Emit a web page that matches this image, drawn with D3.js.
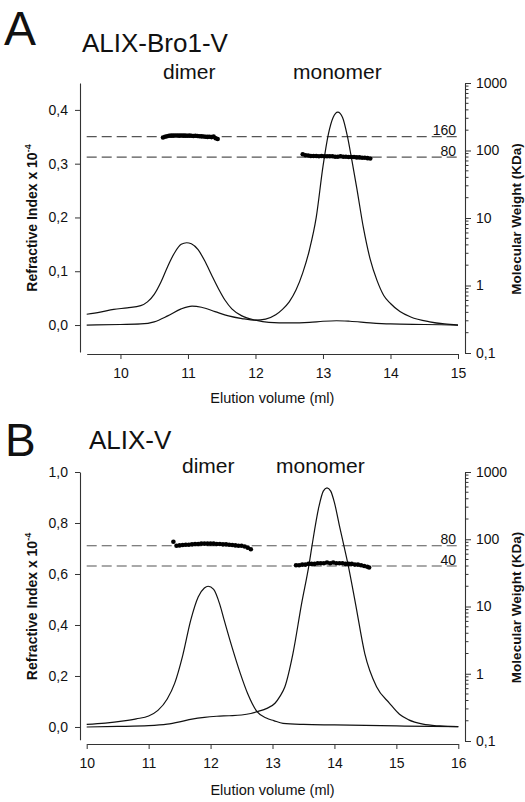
<!DOCTYPE html>
<html><head><meta charset="utf-8">
<script src="https://cdn.jsdelivr.net/npm/d3@7"></script>
<style>
body{margin:0;background:#fff}
svg{display:block}
text{font-family:"Liberation Sans",Arial,Helvetica,sans-serif;fill:#111}
</style>
</head><body>
<svg id="c" width="525" height="802"></svg>
<script>
// ---------------- DATA ----------------
const panelLetters = ["A", "B"];
const panelTitles = ["ALIX-Bro1-V", "ALIX-V"];
const peakLabels = ["dimer", "monomer"];
const xTitle = "Elution volume (ml)";
const yLeftTitle = "Refractive Index x 10";
const yLeftTitleExp = "-4";
const yRightTitle = "Molecular Weight (KDa)";

const xTicksA = [10, 11, 12, 13, 14, 15];
const xTicksB = [10, 11, 12, 13, 14, 15, 16];
const yTicksA = [0, 0.1, 0.2, 0.3, 0.4];
const yTicksB = [0, 0.2, 0.4, 0.6, 0.8, 1.0];
const mwTicks = [0.1, 1, 10, 100, 1000];
const mwTickLabels = ["0,1", "1", "10", "100", "1000"];
const refMwA = [160, 80];
const refMwB = [80, 40];

// Panel A, trace with dimer peak
const volA1 = [9.5,9.7,9.9,10.1,10.3,10.4,10.5,10.6,10.7,10.8,10.9,10.98,11.05,11.15,11.25,11.35,11.45,11.55,11.65,11.8,12.0,12.2,12.5,12.8,13.0,13.2,13.4,13.7,14.0,14.5,15.0];
const riA1  = [0.020,0.024,0.029,0.032,0.036,0.043,0.057,0.080,0.109,0.134,0.150,0.153,0.151,0.140,0.119,0.093,0.068,0.046,0.030,0.017,0.009,0.005,0.004,0.005,0.007,0.008,0.007,0.004,0.002,0.001,0.000];
// Panel A, trace with monomer peak
const volA2 = [9.5,10.0,10.3,10.5,10.7,10.9,11.06,11.2,11.4,11.6,11.8,12.0,12.15,12.3,12.4,12.5,12.6,12.7,12.8,12.9,13.0,13.08,13.15,13.22,13.29,13.36,13.42,13.5,13.6,13.7,13.8,13.9,14.0,14.14,14.3,14.58,14.8,15.0];
const riA2  = [0.000,0.001,0.002,0.006,0.017,0.030,0.035,0.033,0.025,0.017,0.012,0.009,0.011,0.019,0.029,0.043,0.065,0.097,0.140,0.200,0.295,0.355,0.386,0.396,0.386,0.352,0.312,0.255,0.180,0.122,0.083,0.055,0.040,0.025,0.015,0.006,0.002,0.000];
// Panel A, molar mass points
const mwVolA1 = [10.63,10.66,10.69,10.72,10.75,10.78,10.81,10.84,10.87,10.90,10.93,10.96,10.99,11.02,11.05,11.08,11.11,11.14,11.17,11.20,11.23,11.26,11.29,11.32,11.35,11.38,11.41,11.44];
const mwA1    = [156,160,163,165,166,166,167,167,166,167,166,166,165,166,165,164,165,164,163,162,161,160,159,160,158,161,152,148];
const mwVolA2 = [12.70,12.74,12.78,12.82,12.86,12.90,12.94,12.98,13.02,13.06,13.10,13.14,13.18,13.22,13.26,13.30,13.34,13.38,13.42,13.46,13.50,13.54,13.58,13.62,13.66,13.70];
const mwA2    = [88,85,84,83,83,83,82,83,82,82,82,82,81,81,82,81,81,80,80,80,79,79,78,78,77,76];

// Panel B, trace with dimer peak
const volB1 = [10.0,10.3,10.6,10.8,11.0,11.15,11.3,11.42,11.55,11.68,11.8,11.9,11.96,12.05,12.15,12.22,12.35,12.48,12.6,12.75,12.9,13.02,13.17,13.5,14.0,15.0,16.0];
const riB1  = [0.010,0.015,0.024,0.032,0.043,0.065,0.110,0.171,0.280,0.419,0.510,0.545,0.552,0.540,0.480,0.419,0.310,0.210,0.130,0.060,0.035,0.025,0.014,0.010,0.008,0.004,0.001];
// Panel B, trace with monomer peak
const volB2 = [10.0,10.5,11.0,11.3,11.5,11.7,11.9,12.1,12.3,12.5,12.65,12.78,12.9,13.04,13.12,13.2,13.33,13.47,13.59,13.64,13.75,13.82,13.88,13.94,14.0,14.08,14.15,14.22,14.34,14.49,14.68,14.89,15.05,15.2,15.43,15.7,16.0];
const riB2  = [0.000,0.002,0.005,0.011,0.020,0.031,0.038,0.042,0.044,0.047,0.053,0.062,0.072,0.093,0.120,0.158,0.288,0.484,0.637,0.714,0.865,0.925,0.938,0.925,0.880,0.790,0.714,0.637,0.484,0.288,0.158,0.093,0.050,0.028,0.011,0.004,0.001];
// Panel B, molar mass points
const mwVolB1 = [11.40,11.45,11.50,11.55,11.60,11.65,11.70,11.75,11.80,11.85,11.90,11.95,12.00,12.05,12.10,12.15,12.20,12.25,12.30,12.35,12.40,12.45,12.50,12.55,12.60,12.65];
const mwB1    = [92,80,81,82,83,83,84,85,85,86,86,86,86,86,85,85,84,84,83,82,81,80,80,78,75,71];
const mwVolB2 = [13.38,13.43,13.48,13.53,13.58,13.63,13.68,13.73,13.78,13.83,13.88,13.93,13.98,14.03,14.08,14.13,14.18,14.23,14.28,14.33,14.38,14.43,14.48,14.53,14.56];
const mwB2    = [41,41,42,42,43,43,43,44,44,44,45,44,45,44,44,44,43,43,43,42,42,41,40,39,38];

// ---------------- LAYOUT ----------------
const svg = d3.select("#c");
const fmtComma = d => d3.format(".1f")(d).replace(".", ",");
const fmtInt = d3.format("d");
const zip = (a, b) => a.map((v, i) => [v, b[i]]);

const panels = [
  {
    letter: panelLetters[0], title: panelTitles[0],
    letterPos: [4, 45], letterSize: 48, titlePos: [82, 52],
    labelY: 79, dimerX: 163, monomerX: 293,
    xDomain: [9.5, 15], xRange: [86.7, 458], xTicks: xTicksA, xAxisY: 354,
    yLeftDomain: [-0.052, 0.45], yAxisExtent: [-0.05, 0.45], yTicks: yTicksA,
    yRange: [353, 83], xTitleY: 403, refMw: refMwA,
    traces: [zip(volA1, riA1), zip(volA2, riA2)],
    mw: [zip(mwVolA1, mwA1), zip(mwVolA2, mwA2)]
  },
  {
    letter: panelLetters[1], title: panelTitles[1],
    letterPos: [5, 456], letterSize: 46, titlePos: [89, 449],
    labelY: 473, dimerX: 182, monomerX: 276,
    xDomain: [10, 16], xRange: [86.7, 458.3], xTicks: xTicksB, xAxisY: 744,
    yLeftDomain: [-0.055, 1.0], yAxisExtent: [-0.05, 1.0], yTicks: yTicksB,
    yRange: [741, 472], xTitleY: 795, refMw: refMwB,
    traces: [zip(volB1, riB1), zip(volB2, riB2)],
    mw: [zip(mwVolB1, mwB1), zip(mwVolB2, mwB2)]
  }
];

const leftX = 80, rightX = 465;
const axisColor = "#333";

panels.forEach(p => {
  const g = svg.append("g");
  const x = d3.scaleLinear().domain(p.xDomain).range(p.xRange);
  const yL = d3.scaleLinear().domain(p.yLeftDomain).range(p.yRange);
  const yR = d3.scaleLog().domain([0.1, 1000]).range(p.yRange);

  // Titles
  g.append("text").attr("x", p.letterPos[0]).attr("y", p.letterPos[1])
    .attr("font-size", p.letterSize).text(p.letter);
  g.append("text").attr("x", p.titlePos[0]).attr("y", p.titlePos[1])
    .attr("font-size", 26).text(p.title);
  g.append("text").attr("x", p.dimerX).attr("y", p.labelY)
    .attr("font-size", 21).text(peakLabels[0]);
  g.append("text").attr("x", p.monomerX).attr("y", p.labelY)
    .attr("font-size", 21).text(peakLabels[1]);

  // Left axis
  const yAxisScale = yL.copy().domain(p.yAxisExtent).range(p.yAxisExtent.map(yL));
  const ga = g.append("g").attr("transform", `translate(${leftX},0)`)
    .call(d3.axisLeft(yAxisScale).tickValues(p.yTicks).tickSize(5).tickSizeOuter(0)
      .tickPadding(7).tickFormat(fmtComma));
  ga.selectAll("text").attr("font-size", 14).attr("font-family", '"Liberation Sans",Arial,sans-serif').attr("fill", "#111");

  // Bottom axis
  const gx = g.append("g").attr("transform", `translate(0,${p.xAxisY})`)
    .call(d3.axisBottom(x).tickValues(p.xTicks).tickSize(5).tickSizeOuter(0).tickPadding(9)
      .tickFormat(fmtInt));
  gx.selectAll("text").attr("font-size", 14).attr("font-family", '"Liberation Sans",Arial,sans-serif').attr("fill", "#111");

  // Right log axis
  const gr = g.append("g").attr("transform", `translate(${rightX},0)`)
    .call(d3.axisRight(yR).tickValues(mwTicks).tickSize(6).tickSizeOuter(0).tickPadding(5)
      .tickFormat((d, i) => mwTickLabels[i]));
  gr.selectAll("text").attr("font-size", 14).attr("font-family", '"Liberation Sans",Arial,sans-serif').attr("fill", "#111");
  const minor = [];
  [0.1, 1, 10, 100].forEach(dec => { for (let k = 2; k <= 9; k++) minor.push(dec * k); });
  gr.selectAll("line.minor").data(minor).enter().append("line")
    .attr("class", "minor").attr("x1", 0).attr("x2", 3.5)
    .attr("y1", d => yR(d)).attr("y2", d => yR(d))
    .attr("stroke", axisColor).attr("stroke-width", 1);

  [ga, gx, gr].forEach(a => {
    a.selectAll("path.domain").attr("stroke", axisColor).attr("stroke-width", 1.1);
    a.selectAll(".tick line").attr("stroke", axisColor).attr("stroke-width", 1);
  });

  // Axis titles
  const yMid = (p.yRange[0] + p.yRange[1]) / 2;
  const lt = g.append("text").attr("transform", `translate(37,${yMid}) rotate(-90)`)
    .attr("text-anchor", "middle").attr("font-size", 14).attr("font-weight", "bold");
  lt.append("tspan").text(yLeftTitle);
  lt.append("tspan").attr("font-size", 9).attr("dy", -6).text(yLeftTitleExp);

  g.append("text").attr("transform", `translate(521,${yMid + 1}) rotate(-90)`)
    .attr("text-anchor", "middle").attr("font-size", 13.5).attr("font-weight", "bold")
    .text(yRightTitle);

  g.append("text").attr("x", (p.xRange[0] + p.xRange[1]) / 2).attr("y", p.xTitleY)
    .attr("text-anchor", "middle").attr("font-size", 14.5).text(xTitle);

  // Reference MW dashed lines
  p.refMw.forEach(v => {
    g.append("line").attr("x1", p.xRange[0]).attr("x2", p.xRange[1])
      .attr("y1", yR(v)).attr("y2", yR(v))
      .attr("stroke", "#555").attr("stroke-width", 1.2).attr("stroke-dasharray", "10,5");
    g.append("text").attr("x", 456).attr("y", yR(v) - 1.5).attr("text-anchor", "end")
      .attr("font-size", 14).text(v);
  });

  // RI traces
  const line = d3.line().x(d => x(d[0])).y(d => yL(d[1])).curve(d3.curveMonotoneX);
  p.traces.forEach(t => {
    g.append("path").datum(t).attr("d", line)
      .attr("fill", "none").attr("stroke", "#111").attr("stroke-width", 1.2);
  });

  // MW points
  p.mw.forEach(set => {
    g.selectAll(null).data(set).enter().append("circle")
      .attr("cx", d => x(d[0])).attr("cy", d => yR(d[1])).attr("r", 2.3)
      .attr("fill", "#000");
  });
});
</script>
</body></html>
